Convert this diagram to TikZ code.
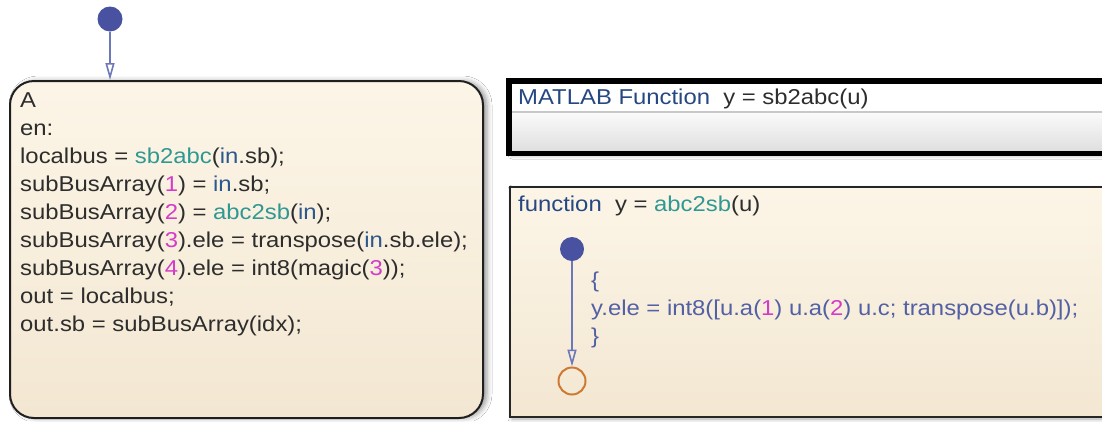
\documentclass[tikz,border=0pt]{standalone}
\usepackage{fontspec}
\setmainfont[FakeStretch=1.11]{Liberation Sans}
\usetikzlibrary{arrows.meta,shadows.blur}
\definecolor{txt}{RGB}{45,45,45}
\definecolor{tealfn}{RGB}{48,152,146}
\definecolor{bluein}{RGB}{45,88,142}
\definecolor{magnum}{RGB}{212,60,200}
\definecolor{hdrblue}{RGB}{38,72,130}
\definecolor{bodyblue}{RGB}{82,96,165}
\definecolor{creamtop}{RGB}{252,245,231}
\definecolor{creambot}{RGB}{243,231,210}
\definecolor{dotblue}{RGB}{72,82,160}
\definecolor{transblue}{RGB}{108,120,186}
\definecolor{termorange}{RGB}{204,122,52}
\definecolor{greytop}{RGB}{250,250,250}
\definecolor{greybot}{RGB}{224,224,224}
\definecolor{sepgrey}{RGB}{200,200,200}
\newcommand\cfn[1]{\textcolor{tealfn}{#1}}
\newcommand\cin[1]{\textcolor{bluein}{#1}}
\newcommand\cnum[1]{\textcolor{magnum}{#1}}
\begin{document}
\begin{tikzpicture}[x=1pt,y=-1pt,
  code/.style={anchor=base west, inner sep=0pt, font=\fontsize{21.5}{26}\selectfont, text=txt},
  statebox/.style={draw=black!88, line width=2pt, rounded corners=24pt,
    top color=creamtop, bottom color=creambot, inner sep=0pt,
    blur shadow={shadow xshift=4pt, shadow yshift=0pt, shadow blur radius=5pt, shadow opacity=40}},
  funcbox/.style={draw=black!85, line width=2pt, top color=creamtop, bottom color=creambot, inner sep=0pt,
    blur shadow={shadow xshift=2pt, shadow yshift=-2pt, shadow blur radius=4pt, shadow opacity=35}},
  dotnode/.style={circle, fill=dotblue, inner sep=0pt},
  trans/.style={draw=transblue, line width=1.6pt, -{Triangle[open, length=17pt, width=9pt]}},
]
\useasboundingbox (0,0) rectangle (1102,421);
\clip (0,0) rectangle (1102,421);
\fill[white] (0,0) rectangle (1102,421);

% State A
\node[statebox, minimum width=473pt, minimum height=337pt] (A) at (246.5,249.5) {};
\node[code] (l0) at (20,107) {A};
\node[code] (l1) at (20,135) {en:};
\node[code] (l2) at (20,163) {localbus = \cfn{sb2abc}(\cin{in}.sb);};
\node[code] (l3) at (20,191) {subBusArray(\cnum{1}) = \cin{in}.sb;};
\node[code] (l4) at (20,219) {subBusArray(\cnum{2}) = \cfn{abc2sb}(\cin{in});};
\node[code] (l5) at (20,247) {subBusArray(\cnum{3}).ele = transpose(\cin{in}.sb.ele);};
\node[code] (l6) at (20,275) {subBusArray(\cnum{4}).ele = int8(magic(\cnum{3}));};
\node[code] (l7) at (20,303) {out = localbus;};
\node[code] (l8) at (20,331) {out.sb = subBusArray(idx);};

% Initial transition
\node[dotnode, minimum size=25pt] (init) at (110,19) {};
\draw[trans] (init) -- (init |- A.north);

% MATLAB Function box
\node[draw=black, line width=4pt, fill=white, inner sep=0pt, minimum width=600pt, minimum height=70.5pt,
  blur shadow={shadow xshift=2pt, shadow yshift=-3pt, shadow blur radius=4pt, shadow opacity=40}] (mlbox) at (810,116.75) {};
\node[inner sep=0pt, top color=greytop, bottom color=greybot, minimum width=596pt, minimum height=37.5pt] (mlbody) at (810,131.25) {};
\draw[sepgrey, line width=2pt] (mlbody.north west) -- (mlbody.north east);
\draw[black, line width=4pt] (mlbox.north west) rectangle (mlbox.south east);
\node[code] (mlhead) at (518,104) {\textcolor{hdrblue}{MATLAB Function}\ \ y = sb2abc(u)};

% Graphical function box
\node[funcbox, minimum width=600pt, minimum height=230pt] (fbox) at (810,302) {};
\node[code] (fhead) at (518,211) {\textcolor{hdrblue}{function}\ \ y = \cfn{abc2sb}(u)};
\node[dotnode, minimum size=24pt] (fdot) at (572,249) {};
\node[circle, draw=termorange, line width=2pt, inner sep=0pt, minimum size=27pt] (fend) at (572,381) {};
\draw[trans] (fdot) -- (fend);
\node[code, text=bodyblue] (b0) at (591,287) {\{};
\node[code, text=bodyblue] (b1) at (591,315) {y.ele = int8([u.a(\cnum{1}) u.a(\cnum{2}) u.c; transpose(u.b)]);};
\node[code, text=bodyblue] (b2) at (591,343) {\}};
\end{tikzpicture}
\end{document}
